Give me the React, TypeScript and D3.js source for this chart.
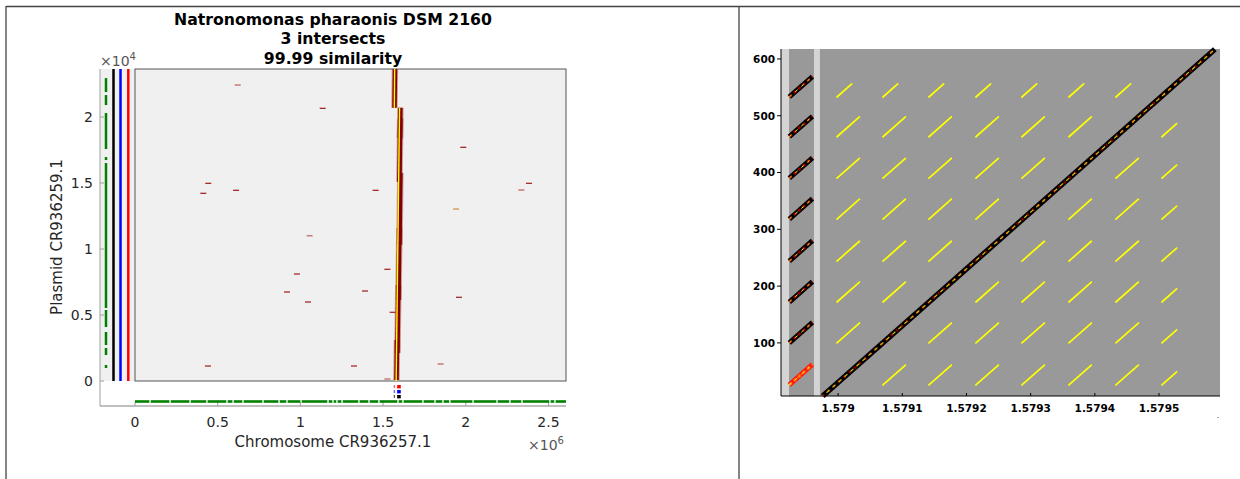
import React from 'react';
import * as d3 from 'd3';

// ---------- Left panel data ----------
const titleLines = ['Natronomonas pharaonis DSM 2160', '3 intersects', '99.99 similarity'];
const chromTicks = [0, 0.5, 1, 1.5, 2, 2.5]; // x 1e6
const plasmidTicks = [0, 0.5, 1, 1.5, 2]; // x 1e4
const chromDomain = [0, 2.606];
const plasmidDomain = [0, 2.364];

// scattered short hits: [chromosome (Mb), plasmid (x1e4)]
const hitsDark: [number, number][] = [
  [1.135, 2.066], [0.413, 1.422], [0.611, 1.4447], [1.455, 1.4447], [2.382, 1.4977],
  [1.526, 0.8462], [1.959, 0.6341], [1.558, 0.5204], [1.391, 0.6818], [0.979, 0.8106],
  [0.919, 0.6742], [1.046, 0.5985], [1.324, 0.1136], [0.441, 0.1136], [0.443, 1.4977],
  [1.985, 1.7705],
];
const hitsPale: [number, number][] = [
  [0.621, 2.2425], [1.056, 1.1008], [2.336, 1.447], [1.848, 0.1288], [1.526, 0.0152],
];
const hitsYellowish: [number, number][] = [[1.941, 1.303]];

// main alignment blocks: [chrom centre (Mb), plasmid start, plasmid end]
const mainBlocks: [number, number, number][] = [
  [1.5689, 2.07, 2.364],
  [1.6022, 1.84, 2.07],
  [1.599, 1.508, 1.99],
  [1.599, 1.03, 1.576],
  [1.593, 0.614, 1.159],
  [1.587, 0.212, 0.727],
  [1.581, 0.008, 0.311],
];
// yellow identity trace: [chrom start, plasmid start, chrom end, plasmid end]
const mainTrace: [number, number, number, number][] = [
  [1.5790, 0.0, 1.5997, 2.07],
  [1.5680, 2.07, 1.5700, 2.364],
];
// plasmid coverage (green) segments, x1e4
const plasmidCover: [number, number][] = [
  [2.2954, 2.1894], [2.1667, 2.0909], [2.0303, 1.7576], [1.697, 1.6742], [1.6515, 0.553],
  [0.5379, 0.4091], [0.3712, 0.2727], [0.25, 0.197], [0.1212, 0.0985],
];
// chromosome coverage gaps (Mb)
const chromGaps = [0.091, 0.212, 0.333, 0.435, 0.556, 0.593, 0.653, 0.774, 0.871, 0.919, 1.004,
  1.167, 1.197, 1.221, 1.252, 1.354, 1.415, 1.475, 1.590, 1.620, 1.741, 1.814, 1.862, 1.904,
  2.044, 2.189, 2.267, 2.340, 2.509, 2.539];
const intersectColors = ['#ff0000', '#0000ff', '#000000'];
const intersectChrom = [1.5961, 1.5961, 1.5961];
const intersectTick = [1.5677, 1.5677, 1.5677];

// ---------- Right panel data ----------
const rxDomain = [1.578911, 1.579595];
const ryDomain = [6.5, 617.5];
const rxTicks = [1.579, 1.5791, 1.5792, 1.5793, 1.5794, 1.5795];
const ryTicks = [100, 200, 300, 400, 500, 600];
const lightBands: [number, number][] = [[1.578911, 1.5789235], [1.5789624, 1.5789717]];
const mainDiag = [1.578976, 6.5, 1.579587, 617];
const repeatRows = [26, 100, 172, 244, 318, 390, 463, 533];
const repeatRowLen = [35, 35, 35, 35, 35, 35, 35, 23];
const repeatCols = [1.5789982, 1.5790699, 1.5791415, 1.5792147, 1.5792864, 1.5793596, 1.5794328, 1.5795045];
const repeatColLen = [35, 35, 35, 35, 35, 35, 35, 23];
const stripX = [1.578924, 1.57896];
const stripLen = 36;

const FONT = 'DejaVu Sans, sans-serif';

export default function App() {
  // left panel scales
  const xL = d3.scaleLinear().domain(chromDomain).range([135, 566]);
  const yL = d3.scaleLinear().domain(plasmidDomain).range([381, 69]);
  const outerLeft = 100;
  const outerBottom = 406;

  // right panel scales
  const xR = d3.scaleLinear().domain(rxDomain).range([781, 1220]);
  const yR = d3.scaleLinear().domain(ryDomain).range([396, 49]);

  // chromosome coverage segments from gaps
  const cover: [number, number][] = [];
  let s = chromDomain[0];
  chromGaps.forEach((g) => {
    cover.push([s, g - 0.004]);
    s = g + 0.004;
  });
  cover.push([s, chromDomain[1]]);

  const tickColor = '#262626';

  const repeatCells: { x: number; y: number; len: number }[] = [];
  repeatRows.forEach((ry, ri) => {
    repeatCols.forEach((cx, ci) => {
      if (ri === ci) return;
      repeatCells.push({ x: cx, y: ry, len: Math.min(repeatRowLen[ri], repeatColLen[ci]) });
    });
  });

  const bp = 1e-6; // 1 bp in Mb

  return (
    <svg width={1240} height={479} style={{ position: 'absolute', left: 0, top: 0, background: '#fff' }}>
      {/* frame */}
      <line x1={6} y1={6.5} x2={1240} y2={6.5} stroke="#444" strokeWidth={1.3} />
      <line x1={6} y1={6} x2={6} y2={479} stroke="#444" strokeWidth={1.3} />
      <line x1={739} y1={6} x2={739} y2={479} stroke="#444" strokeWidth={1.3} />

      {/* ===== Left panel ===== */}
      <g fontFamily={FONT}>
        {titleLines.map((t, i) => (
          <text key={t} x={333} y={24.5 + i * 19.5} textAnchor="middle" fontWeight="bold" fontSize={15.7} fill="#000">
            {t}
          </text>
        ))}
        {/* strip background */}
        <rect x={outerLeft} y={69} width={135 - outerLeft} height={312} fill="#f0f0f0" />
        {/* outer axes */}
        <line x1={outerLeft} y1={69} x2={outerLeft} y2={outerBottom} stroke="#a0a0a0" strokeWidth={1} />
        <line x1={outerLeft} y1={outerBottom} x2={566} y2={outerBottom} stroke="#808080" strokeWidth={1} />
        {plasmidTicks.map((t) => (
          <g key={'yt' + t}>
            <line x1={outerLeft} x2={outerLeft + 4} y1={yL(t)} y2={yL(t)} stroke="#a0a0a0" />
            <text x={93} y={yL(t) + 5} textAnchor="end" fontSize={14} fill={tickColor}>{String(t)}</text>
          </g>
        ))}
        {chromTicks.map((t) => (
          <g key={'xt' + t}>
            <line x1={xL(t)} x2={xL(t)} y1={outerBottom} y2={outerBottom - 4} stroke="#a0a0a0" />
            <text x={xL(t)} y={427} textAnchor="middle" fontSize={14} fill={tickColor}>{String(t)}</text>
          </g>
        ))}
        <text x={100} y={66} fontSize={14} fill="#555">×10<tspan dy={-6} fontSize={10}>4</tspan></text>
        <text x={528} y={450} fontSize={14} fill="#555">×10<tspan dy={-6} fontSize={10}>6</tspan></text>
        <text x={333} y={447} textAnchor="middle" fontSize={15} fill={tickColor}>Chromosome CR936257.1</text>
        <text transform={`translate(62,237) rotate(-90)`} textAnchor="middle" fontSize={15} fill={tickColor}>
          Plasmid CR936259.1
        </text>

        {/* strip tracks */}
        {plasmidCover.map(([a, b], i) => (
          <line key={'pc' + i} x1={106} x2={106} y1={yL(a)} y2={yL(b)} stroke="#008000" strokeWidth={2.5} />
        ))}
        <line x1={113.5} x2={113.5} y1={69} y2={381} stroke="#000" strokeWidth={2.5} />
        <line x1={120.5} x2={120.5} y1={69} y2={381} stroke="#0000ff" strokeWidth={2.5} />
        <line x1={128.3} x2={128.3} y1={69} y2={381} stroke="#ff0000" strokeWidth={2.5} />

        {/* inner axes */}
        <rect x={135} y={69} width={431} height={312} fill="#f0f0f0" stroke="#555" strokeWidth={1} />

        {/* chromosome coverage */}
        {cover.map(([a, b], i) => (
          <line key={'cc' + i} x1={xL(a)} x2={xL(b)} y1={401.5} y2={401.5} stroke="#008000" strokeWidth={2.6} />
        ))}

        {/* intersect markers */}
        {intersectColors.map((c, i) => (
          <g key={'im' + i}>
            <rect x={xL(intersectTick[i]) - 0.5} y={385 + i * 5} width={1} height={3} fill={c} opacity={0.8} />
            <rect x={xL(intersectChrom[i]) - 1.8} y={385 + i * 5} width={3.6} height={3.4} fill={c} />
          </g>
        ))}

        {/* scattered hits */}
        {hitsDark.map(([x, y], i) => (
          <line key={'hd' + i} x1={xL(x) - 3} x2={xL(x) + 3} y1={yL(y)} y2={yL(y)} stroke="#a52a2a" strokeWidth={1.3} />
        ))}
        {hitsPale.map(([x, y], i) => (
          <line key={'hp' + i} x1={xL(x) - 3} x2={xL(x) + 3} y1={yL(y)} y2={yL(y)} stroke="#c87878" strokeWidth={1.5} />
        ))}
        {hitsYellowish.map(([x, y], i) => (
          <line key={'hy' + i} x1={xL(x) - 3} x2={xL(x) + 3} y1={yL(y)} y2={yL(y)} stroke="#d4a060" strokeWidth={1.5} />
        ))}

        {/* main alignment */}
        {mainBlocks.map(([c, a, b], i) => (
          <line key={'mbh' + i} x1={xL(c)} x2={xL(c + (b - a) * 0.01)} y1={yL(a)} y2={yL(b)}
            stroke="#c06060" strokeWidth={6.5} opacity={0.6} />
        ))}
        {mainBlocks.map(([c, a, b], i) => (
          <line key={'mb' + i} x1={xL(c)} x2={xL(c + (b - a) * 0.01)} y1={yL(a)} y2={yL(b)}
            stroke="#800000" strokeWidth={4.5} />
        ))}
        {mainTrace.map(([x0, y0, x1, y1], i) => (
          <line key={'mt' + i} x1={xL(x0)} x2={xL(x1)} y1={yL(y0)} y2={yL(y1)} stroke="#ffff00" strokeWidth={1.4} />
        ))}
      </g>

      {/* ===== Right panel ===== */}
      <g fontFamily={FONT}>
        <rect x={xR(rxDomain[0])} y={49} width={xR(rxDomain[1]) - xR(rxDomain[0])} height={347} fill="#999999" />
        {lightBands.map(([a, b], i) => (
          <rect key={'lb' + i} x={xR(a)} y={49} width={xR(b) - xR(a)} height={347} fill="#d4d4d4" />
        ))}
        {/* repeat grid */}
        {repeatCells.map((c, i) => (
          <line key={'rc' + i} x1={xR(c.x)} y1={yR(c.y)} x2={xR(c.x + c.len * bp)} y2={yR(c.y + c.len)}
            stroke="#ffff00" strokeWidth={1.7} strokeLinecap="round" />
        ))}
        {/* strip segments */}
        {repeatRows.map((r, i) => {
          const isFirst = i === 0;
          return (
            <g key={'ss' + i}>
              <line x1={xR(stripX[0])} y1={yR(r)} x2={xR(stripX[1])} y2={yR(r + stripLen)}
                stroke={isFirst ? '#ff1a1a' : '#000'} strokeWidth={5} />
              <line x1={xR(stripX[0])} y1={yR(r)} x2={xR(stripX[1])} y2={yR(r + stripLen)}
                stroke={isFirst ? '#ff8000' : '#a00000'} strokeWidth={2.5} strokeDasharray="3 3" />
              <line x1={xR(stripX[0])} y1={yR(r)} x2={xR(stripX[1])} y2={yR(r + stripLen)}
                stroke="#ffff00" strokeWidth={1} strokeDasharray="3 5" />
            </g>
          );
        })}
        {/* main diagonal */}
        <line x1={xR(mainDiag[0])} y1={yR(mainDiag[1])} x2={xR(mainDiag[2])} y2={yR(mainDiag[3])} stroke="#000" strokeWidth={5.5} />
        <line x1={xR(mainDiag[0])} y1={yR(mainDiag[1])} x2={xR(mainDiag[2])} y2={yR(mainDiag[3])} stroke="#8b0000" strokeWidth={2.8} strokeDasharray="2 5" />
        <line x1={xR(mainDiag[0])} y1={yR(mainDiag[1])} x2={xR(mainDiag[2])} y2={yR(mainDiag[3])} stroke="#d8c000" strokeWidth={1.2} strokeDasharray="4 4" strokeDashoffset={3} />

        {/* axes */}
        <line x1={781} x2={781} y1={49} y2={396} stroke="#000" strokeWidth={1} />
        <line x1={781} x2={1220} y1={396} y2={396} stroke="#000" strokeWidth={1} />
        {ryTicks.map((t) => (
          <g key={'ry' + t}>
            <line x1={777} x2={781} y1={yR(t)} y2={yR(t)} stroke="#000" />
            <text x={775} y={yR(t) + 3.8} textAnchor="end" fontSize={10.5} fontWeight="bold" fill="#000">{String(t)}</text>
          </g>
        ))}
        {rxTicks.map((t) => (
          <g key={'rx' + t}>
            <line x1={xR(t)} x2={xR(t)} y1={396} y2={393} stroke="#000" />
            <text x={xR(t)} y={412} textAnchor="middle" fontSize={10.5} fontWeight="bold" fill="#000">{String(t)}</text>
          </g>
        ))}
        <rect x={1217} y={417} width={2} height={1} fill="#aaa" />
      </g>
    </svg>
  );
}
